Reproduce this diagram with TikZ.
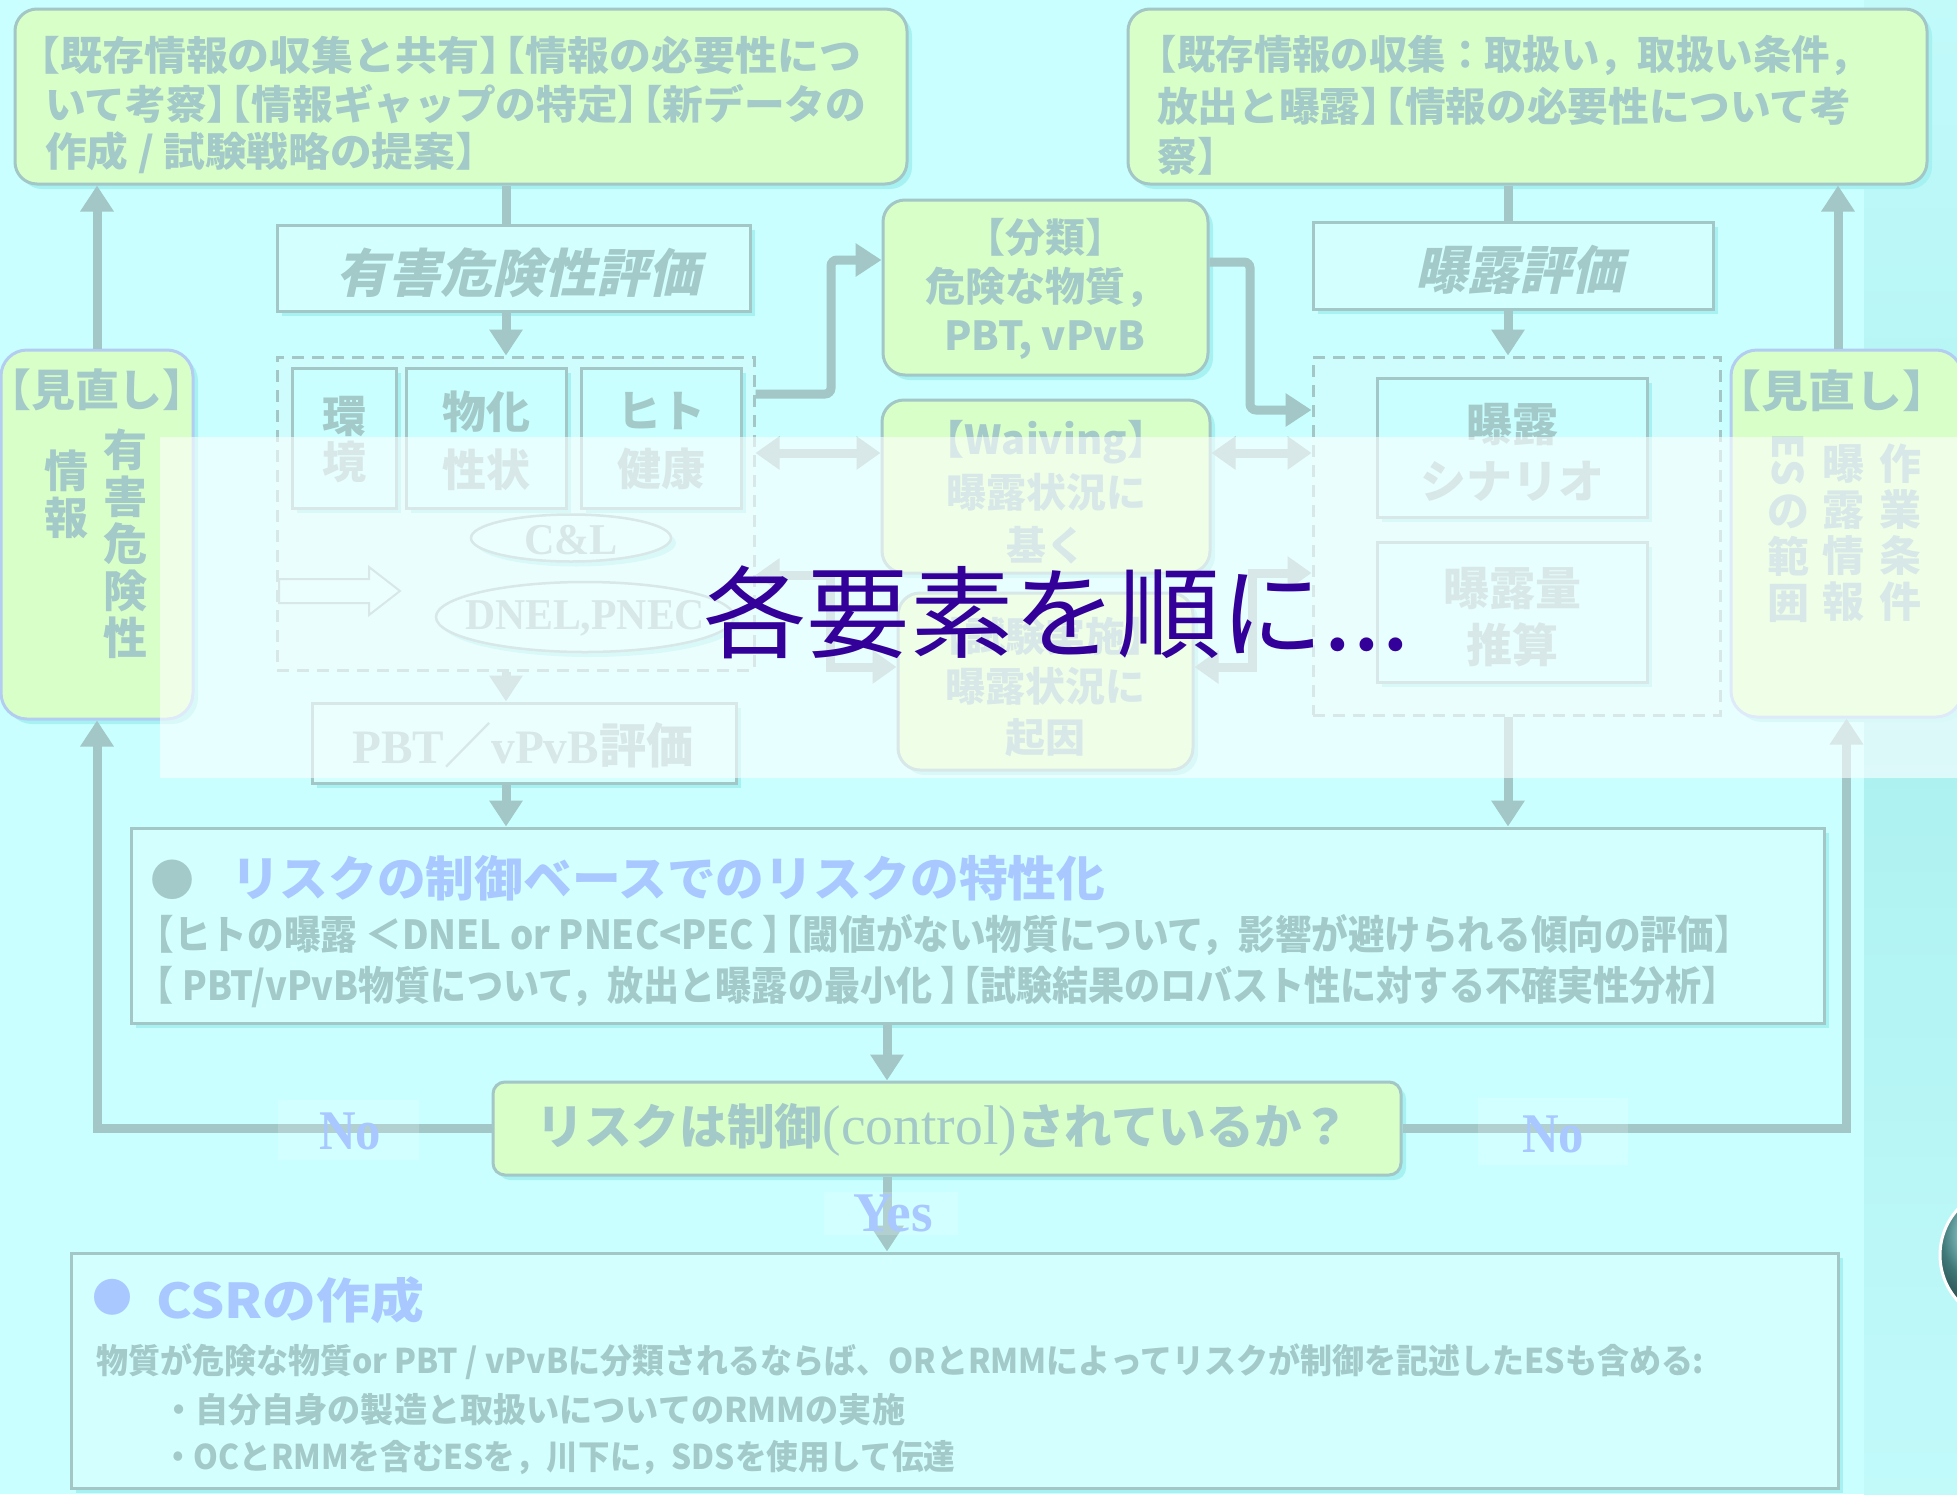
\documentclass[tikz,border=0pt]{standalone}
\usepackage{fontspec}
\usepackage{graphicx}
\setmainfont{Noto Sans CJK JP}
\newfontfamily\jpi{Noto Sans CJK JP}[FakeSlant=0.22]
\newfontfamily\srf{Liberation Serif}
\usetikzlibrary{arrows.meta,shadows,shapes.geometric}
\definecolor{bgc}{HTML}{C9FFFF}
\definecolor{grn}{HTML}{D9FFC8}
\definecolor{txtc}{HTML}{A3C9C9}
\definecolor{bdr}{HTML}{A3C6C6}
\definecolor{shc}{HTML}{A6F2F2}
\definecolor{bluc}{HTML}{A8C8FF}
\definecolor{boxf}{HTML}{D3FFFF}
\definecolor{dashf}{HTML}{CFFDFD}
\definecolor{revb}{HTML}{B2CCF2}
\definecolor{indig}{HTML}{330099}
\definecolor{stripa}{HTML}{C2FAFA}
\definecolor{stripb}{HTML}{ADF1F1}
\definecolor{ballc}{HTML}{5AAAAA}
\newcommand\fitto[2]{\resizebox{#1}{\height}{#2}}
\newcommand\fsz[2]{\fontsize{#1}{#2}\selectfont}
\newcommand\LB{\makebox[0.55em][r]{【}}
\newcommand\RB{\makebox[0.55em][l]{】}}
\begin{document}
\begin{tikzpicture}[x=1pt,y=-1pt,
  shad/.style={drop shadow={shadow xshift=5pt,shadow yshift=-5pt,fill=shc,opacity=1}},
  grnbox/.style={rounded corners=22pt,shad,draw=bdr,line width=3pt,fill=grn,inner sep=0pt},
  revbox/.style={rounded corners=26pt,shad,draw=revb,line width=3pt,fill=grn,inner sep=0pt},
  rbox/.style={shad,draw=bdr,line width=3pt,fill=boxf,inner sep=0pt},
  ibox/.style={shad,draw=bdr,line width=3pt,fill=bgc,inner sep=0pt},
  dbox/.style={draw=bdr,line width=3pt,dash pattern=on 12pt off 8pt,fill=dashf,inner sep=0pt},
  ell/.style={ellipse,shad,draw=bdr,line width=2.5pt,fill=boxf,inner sep=0pt},
  t/.style={inner sep=0pt,text=txtc},
  conn/.style={draw=bdr,line width=9pt},
  arr/.style={conn,-{Triangle[length=26pt,width=32pt]}},
  darr/.style={conn,{Triangle[length=24pt,width=32pt]}-{Triangle[length=24pt,width=32pt]}},
  lbl/.style={fill=white,fill opacity=0.18,draw=none}
]
\useasboundingbox (0,0) rectangle (1957,1494);
\clip (0,0) rectangle (1957,1494);
\fill[bgc] (0,0) rectangle (1957,1494);
\shade[top color=stripa,bottom color=stripa,middle color=stripb] (1864,0) rectangle (1957,1494);
\shade[ball color=ballc,draw=white,line width=3pt] (2008,1255) circle (68);

% boxes
\node[grnbox,minimum width=892pt,minimum height=175pt] (tl) at (461,96.5) {};
\node[grnbox,minimum width=799pt,minimum height=175pt] (tr) at (1527.5,96.5) {};
\node[rbox,minimum width=473pt,minimum height=86pt] (haz) at (513.5,268) {};
\node[rbox,minimum width=400pt,minimum height=87pt] (exptitle) at (1513,265.5) {};
\node[dbox,minimum width=477pt,minimum height=313pt] (hazd) at (515.5,513.5) {};
\node[ibox,minimum width=104pt,minimum height=140pt] (env) at (344,438) {};
\node[ibox,minimum width=160pt,minimum height=140pt] (phys) at (486,438) {};
\node[ibox,minimum width=160pt,minimum height=140pt] (hum) at (661,438) {};
\node[ell,minimum width=200pt,minimum height=47pt] (cl) at (571,538) {};
\node[ell,minimum width=298pt,minimum height=70pt] (dnel) at (585,617) {};
\draw[bdr,line width=2pt,fill=boxf] (279,579) -- (369,579) -- (369,567) -- (400,591) -- (369,615) -- (369,603) -- (279,603) -- cycle;
\node[rbox,minimum width=424pt,minimum height=80pt] (pbt) at (524,743) {};
\node[grnbox,minimum width=325pt,minimum height=175pt] (cls) at (1045.5,287.5) {};
\node[grnbox,minimum width=328pt,minimum height=173pt] (waiv) at (1046,486.5) {};
\node[grnbox,minimum width=295pt,minimum height=177pt] (test) at (1045.5,681.5) {};
\node[dbox,minimum width=407pt,minimum height=358pt] (expd) at (1516.5,536) {};
\node[ibox,minimum width=270pt,minimum height=139pt] (scen) at (1512,447.5) {};
\node[ibox,minimum width=270pt,minimum height=140pt] (amt) at (1512,612) {};
\node[revbox,minimum width=192pt,minimum height=369pt] (revL) at (97,534.5) {};
\node[revbox,minimum width=231pt,minimum height=367pt] (revR) at (1846.5,533.5) {};
\node[rbox,minimum width=1693pt,minimum height=195pt] (risk) at (977.5,925.5) {};
\node[grnbox,rounded corners=12pt,minimum width=908pt,minimum height=93pt] (dec) at (947,1128.5) {};
\node[rbox,minimum width=1767pt,minimum height=235pt] (csr) at (954.5,1370.5) {};

% column coordinates
\coordinate (xA) at (506,0);
\coordinate (xB) at (1508,0);
\coordinate (xL) at (97,0);
\coordinate (xR) at (1838,0);
\coordinate (xD) at (887,0);

% connectors
\draw[conn] (tl.south -| xA) -- (haz.north -| xA);
\draw[arr] (haz.south -| xA) -- (hazd.north -| xA);
\draw[arr] (hazd.south -| xA) -- (pbt.north -| xA);
\draw[arr] (pbt.south -| xA) -- (risk.north -| xA);
\draw[arr,rounded corners=6pt] (hazd.east |- 0,394) -| (831,260) -- (cls.west |- 0,260);
\draw[arr,rounded corners=6pt] (cls.east |- 0,262) -| (1250,410) -- (expd.west |- 0,410);
\draw[conn] (tr.south -| xB) -- (exptitle.north -| xB);
\draw[arr] (exptitle.south -| xB) -- (expd.north -| xB);
\draw[arr] (expd.south -| xB) -- (risk.north -| xB);
\draw[arr] (revL.north -| xL) -- (tl.south -| xL);
\draw[arr] (revR.north -| xR) -- (tr.south -| xR);
\draw[arr] (risk.south -| xD) -- (dec.north -| xD);
\draw[arr] (dec.south -| xD) -- (csr.north -| xD);
\draw[arr] (dec.west) -| (revL.south -| xL);
\draw[arr] (dec.east) -| (revR.south);
\draw[darr] (hazd.east |- 0,453) -- (waiv.west |- 0,453);
\draw[darr] (waiv.east |- 0,453) -- (expd.west |- 0,453);
\draw[darr] (hazd.east |- 0,575) -| (830,667) -- (test.west |- 0,667);
\draw[darr] (expd.west |- 0,573) -| (1252,667) -- (test.east |- 0,667);

% label backgrounds
\fill[lbl] (278,1100) rectangle (419,1160);
\fill[lbl] (1478,1098) rectangle (1628,1165);
\fill[lbl] (824,1192) rectangle (958,1235);

% texts
\node[t,anchor=west,font=\bfseries\fsz{40}{40}] (tl1) at (37,55) {\fitto{824pt}{\LB 既存情報の収集と共有\RB\LB 情報の必要性につ}};
\node[t,anchor=west,font=\bfseries\fsz{40}{40}] (tl2) at (45,104) {\fitto{821pt}{いて考察\RB\LB 情報ギャップの特定\RB\LB 新データの}};
\node[t,anchor=west,font=\bfseries\fsz{40}{40}] (tl3) at (45,153) {\fitto{433pt}{作成 / 試験戦略の提案\RB}};
\node[t,anchor=west,font=\bfseries\fsz{40}{40}] (tr1) at (1156,55) {\fitto{712pt}{\LB 既存情報の収集：取扱い，取扱い条件，}};
\node[t,anchor=west,font=\bfseries\fsz{40}{40}] (tr2) at (1157,106) {\fitto{694pt}{放出と曝露\RB\LB 情報の必要性について考}};
\node[t,anchor=west,font=\bfseries\fsz{40}{40}] (tr3) at (1157,156) {察\RB};
\node[t,font=\jpi\bfseries\fsz{52}{52}] (hazt) at (518,273) {有害危険性評価};
\node[t,font=\jpi\bfseries\fsz{52}{52}] (expt) at (1519,270) {曝露評価};
\node[t,align=center,font=\bfseries\fsz{44}{46}] (envt) at (344,440) {環\\境};
\node[t,align=center,font=\bfseries\fsz{44}{58}] (physt) at (486,441) {物化\\性状};
\node[t,align=center,font=\bfseries\fsz{44}{58}] (humt) at (661,441) {ヒト\\健康};
\node[t,font=\srf\bfseries\fsz{44}{44}] (clt) at (571,540) {\fitto{94pt}{C\&L}};
\node[t,font=\srf\bfseries\fsz{44}{44}] (dnelt) at (585,618) {\fitto{240pt}{DNEL,PNEC}};
\node[t,font=\bfseries\fsz{48}{48}] (pbtt) at (523,745) {\fitto{341pt}{{\srf PBT}／{\srf vPvB}評価}};
\node[t,align=center,font=\bfseries\fsz{40}{49}] (clst) at (1045,289) {\LB 分類\RB\\危険な物質，\\PBT, vPvB};
\node[t,align=center,font=\bfseries\fsz{40}{53}] (waivt) at (1046,492) {\LB Waiving\RB\\曝露状況に\\基く};
\node[t,align=center,font=\bfseries\fsz{40}{50.5}] (testt) at (1045,687) {\LB 試験実施\RB\\曝露状況に\\起因};
\node[t,align=center,font=\bfseries\fsz{46}{57}] (scent) at (1512,452) {曝露\\シナリオ};
\node[t,align=center,font=\bfseries\fsz{46}{57}] (amtt) at (1512,617) {曝露量\\推算};
\node[t,font=\bfseries\fsz{44}{44}] (revLt) at (97,390) {\fitto{180pt}{\LB 見直し\RB}};
\node[t,align=center,font=\bfseries\fsz{44}{47}] (revLa) at (125,544) {有\\害\\危\\険\\性};
\node[t,align=center,font=\bfseries\fsz{44}{47}] (revLb) at (66,494) {情\\報};
\node[t,font=\bfseries\fsz{44}{44}] (revRt) at (1832,391) {\fitto{192pt}{\LB 見直し\RB}};
\node[t,align=center,font=\bfseries\fsz{42}{46}] (revRa) at (1900,533) {作\\業\\条\\件};
\node[t,align=center,font=\bfseries\fsz{42}{46}] (revRb) at (1843,533) {曝\\露\\情\\報};
\node[t,rotate=-90,font=\bfseries\fsz{42}{42}] (revRc) at (1788,460) {ES};
\node[t,align=center,font=\bfseries\fsz{42}{46}] (revRd) at (1788,559) {の\\範\\囲};

\node[t,font=\bfseries\fsz{44}{44}] (rb) at (172,880) {●};
\node[t,anchor=west,text=bluc,font=\bfseries\fsz{48}{48}] (rtitle) at (231,878) {\fitto{874pt}{リスクの制御ベースでのリスクの特性化}};
\node[t,anchor=west,font=\bfseries\fsz{40}{40}] (rl2) at (154,935) {\fitto{1580pt}{\LB ヒトの曝露 ＜DNEL or PNEC<PEC \RB\LB 閾値がない物質について，影響が避けられる傾向の評価\RB}};
\node[t,anchor=west,font=\bfseries\fsz{40}{40}] (rl3) at (154,987) {\fitto{1567pt}{\LB\ PBT/vPvB物質について，放出と曝露の最小化 \RB\LB 試験結果のロバスト性に対する不確実性分析\RB}};

\node[t,font=\bfseries\fsz{48}{48}] (dect) at (943,1130) {\fitto{813pt}{リスクは制御{\srf\mdseries\fsz{56}{56}(control)}されているか？}};
\node[t,text=bluc,font=\srf\bfseries\fsz{56}{56}] (noL) at (350,1131) {\fitto{62pt}{No}};
\node[t,text=bluc,font=\srf\bfseries\fsz{56}{56}] (noR) at (1553,1134) {\fitto{62pt}{No}};
\node[t,text=bluc,font=\srf\bfseries\fsz{56}{56}] (yes) at (893,1213) {\fitto{80pt}{Yes}};

\node[t,text=bluc,font=\bfseries\fsz{40}{40}] (cb) at (112,1297) {●};
\node[t,anchor=west,text=bluc,font=\bfseries\fsz{48}{48}] (ctitle) at (156,1300) {\fitto{268pt}{CSRの作成}};
\node[t,anchor=west,font=\bfseries\fsz{34}{34}] (cl1) at (96,1362) {\fitto{1608pt}{物質が危険な物質or PBT / vPvBに分類されるならば、ORとRMMによってリスクが制御を記述したESも含める:}};
\node[t,anchor=west,font=\bfseries\fsz{34}{34}] (cl2) at (162,1410) {\fitto{743pt}{・自分自身の製造と取扱いについてのRMMの実施}};
\node[t,anchor=west,font=\bfseries\fsz{34}{34}] (cl3) at (162,1458) {\fitto{793pt}{・OCとRMMを含むESを，川下に，SDSを使用して伝達}};

% overlay band and caption
\fill[white,opacity=0.58] (160,437) rectangle (1957,778);
\node[inner sep=0pt,anchor=west,text=indig,font=\mdseries\fsz{100}{100}] (big) at (703,612) {\fitto{707pt}{各要素を順に...}};
\end{tikzpicture}
\end{document}
